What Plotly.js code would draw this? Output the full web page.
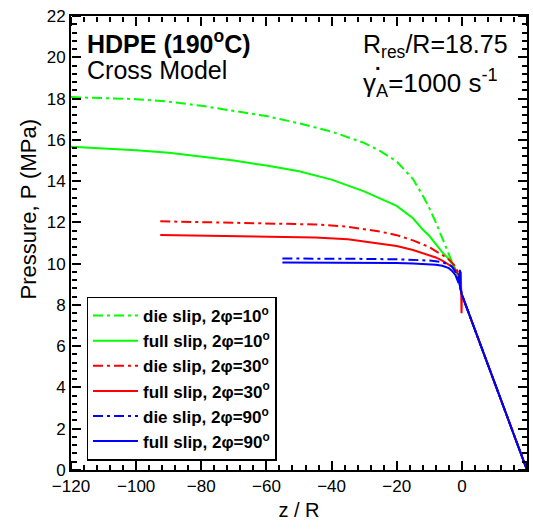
<!DOCTYPE html>
<html>
<head>
<meta charset="utf-8">
<script src="https://cdn.plot.ly/plotly-3.0.1.min.js"></script>
<style>html,body{margin:0;padding:0;background:#fff;}#chart{width:533px;height:530px;}</style>
</head>
<body>
<div id="chart"></div>
<script>
// z/R positions and pressures (MPa)
const z10 = [-120,-110,-100,-90,-80,-70,-60,-50,-40,-30,-25,-20,-15,-12,-10,-8,-6,-4,-3,-2,-1,0,5,10,15,20];
const dieSlip10 = [18.07,18.03,17.97,17.85,17.65,17.4,17.15,16.8,16.4,15.85,15.45,14.95,14.1,13.3,12.7,12.0,11.25,10.45,10.05,9.75,9.3,8.5,6.38,4.25,2.13,0];
const fullSlip10 = [15.66,15.58,15.5,15.37,15.2,15.0,14.75,14.48,14.07,13.5,13.15,12.8,12.2,11.65,11.35,10.95,10.55,10.22,10.0,9.75,9.3,8.5,6.38,4.25,2.13,0];

const z30die = [-92.6,-85,-75,-65,-55,-45,-35,-25,-20,-15,-10,-8,-6,-4,-3,-2,-1,0,5,10,15,20];
const dieSlip30 = [12.05,12.03,12.0,11.97,11.96,11.9,11.79,11.55,11.38,11.13,10.8,10.62,10.42,10.2,10.05,9.85,9.5,8.5,6.38,4.25,2.13,0];
const z30full = [-92.6,-85,-75,-65,-55,-45,-35,-25,-20,-15,-10,-8,-6,-4,-3,-2,-1,-0.3,-0.1,0,5,10,15,20];
const fullSlip30 = [11.39,11.37,11.35,11.33,11.32,11.27,11.18,10.98,10.85,10.66,10.42,10.3,10.15,9.95,9.85,9.7,9.45,9.6,7.6,8.5,6.38,4.25,2.13,0];

const z90die = [-55.1,-50,-40,-30,-20,-15,-10,-8,-6,-4,-3,-2,-1,0,5,10,15,20];
const dieSlip90 = [10.25,10.25,10.24,10.23,10.21,10.19,10.15,10.12,10.07,9.95,9.85,9.6,9.2,8.5,6.38,4.25,2.13,0];
const z90full = [-55.1,-50,-40,-30,-20,-15,-10,-8,-6,-4,-3,-2,-1,-0.6,-0.5,0,5,10,15,20];
const fullSlip90 = [10.06,10.06,10.05,10.04,10.03,10.01,9.98,9.95,9.9,9.78,9.65,9.45,9.05,9.7,8.8,8.5,6.38,4.25,2.13,0];

const xRange = [-120, 20];
const yRange = [0, 22];

const names = [
  "<b>die slip, 2φ=10<sup>o</sup></b>",
  "<b>full slip, 2φ=10<sup>o</sup></b>",
  "<b>die slip, 2φ=30<sup>o</sup></b>",
  "<b>full slip, 2φ=30<sup>o</sup></b>",
  "<b>die slip, 2φ=90<sup>o</sup></b>",
  "<b>full slip, 2φ=90<sup>o</sup></b>"
];

const dd = "10px,4px,3px,4px";
function tr(x, y, name, color, dash, g) {
  return {x: x, y: y, name: name, type: 'scatter', mode: 'lines',
    line: {color: color, width: 2, dash: dash}, legendgroup: g};
}
function holder(n) {
  return {x: [], y: [], xaxis: 'x' + n, yaxis: 'y' + n, type: 'scatter', mode: 'lines',
    showlegend: false, hoverinfo: 'skip'};
}
const data = [
  holder(3), holder(4), holder(5), holder(6),
  tr(z10, dieSlip10, names[0], '#00ff00', dd, 'a'),
  tr(z10, fullSlip10, names[1], '#00ff00', 'solid', 'b'),
  tr(z30die, dieSlip30, names[2], '#ff0000', dd, 'c'),
  tr(z30full, fullSlip30, names[3], '#ff0000', 'solid', 'd'),
  tr(z90die, dieSlip90, names[4], '#0000ff', dd, 'e'),
  tr(z90full, fullSlip90, names[5], '#0000ff', 'solid', 'f')
];

// tick-only axes: outside ticks of an axis placed on the opposite edge point into the plot
function tickAxis(over, side, pos, dtick, len, range) {
  return {overlaying: over, side: side, anchor: 'free', position: pos,
    ticks: 'outside', ticklen: len, tickwidth: len > 6 ? 2 : 1.5, tickcolor: 'black',
    showticklabels: false, showline: false, showgrid: false, zeroline: false,
    range: range, dtick: dtick, tick0: 0, autorange: false};
}

const layout = {
  width: 533, height: 530,
  margin: {l: 71, r: 6, t: 16, b: 60},
  paper_bgcolor: '#fff', plot_bgcolor: 'rgba(0,0,0,0)',
  font: {family: 'Liberation Sans, Arial', color: '#000'},
  showlegend: true,
  legend: {
    x: 0.034, y: 0.382, xanchor: 'left', yanchor: 'top',
    bgcolor: '#fff', bordercolor: '#000', borderwidth: 1.5,
    font: {family: 'Liberation Sans, Arial', size: 17, color: '#000'},
    tracegroupgap: 1, traceorder: 'normal', itemwidth: 45
  },
  xaxis: {
    showline: true, linecolor: 'black', linewidth: 2, mirror: true,
    ticks: '', showgrid: false, zeroline: false,
    tickfont: {size: 17, color: '#000'},
    range: xRange, dtick: 20, tick0: 0,
    title: {text: 'z / R', font: {size: 20}, standoff: 8}
  },
  yaxis: {
    showline: true, linecolor: 'black', linewidth: 2, mirror: true,
    ticks: '', showgrid: false, zeroline: false,
    tickfont: {size: 17, color: '#000'},
    range: yRange, dtick: 2, tick0: 0
  },
  xaxis3: tickAxis('x', 'top', 0, 20, 9, xRange),
  yaxis3: tickAxis('y', 'right', 0, 2, 9, yRange),
  xaxis4: tickAxis('x', 'bottom', 1, 20, 9, xRange),
  yaxis4: tickAxis('y', 'left', 1, 2, 9, yRange),
  xaxis5: tickAxis('x', 'top', 0, 4, 5, xRange),
  yaxis5: tickAxis('y', 'right', 0, 0.4, 5, yRange),
  xaxis6: tickAxis('x', 'bottom', 1, 4, 5, xRange),
  yaxis6: tickAxis('y', 'left', 1, 0.4, 5, yRange),
  annotations: [
    {xref: 'paper', yref: 'paper', x: -0.094, y: 0.574, xanchor: 'center', yanchor: 'middle',
     text: 'Pressure, P (MPa)', textangle: -90, showarrow: false, font: {size: 22}},
    {xref: 'paper', yref: 'paper', x: 0.03, y: 0.943, xanchor: 'left', yanchor: 'middle',
     text: '<b>HDPE (190<sup>o</sup>C)</b>', showarrow: false, font: {size: 25}},
    {xref: 'paper', yref: 'paper', x: 0.03, y: 0.881, xanchor: 'left', yanchor: 'middle',
     text: 'Cross Model', showarrow: false, font: {size: 25}},
    {xref: 'paper', yref: 'paper', x: 0.635, y: 0.935, xanchor: 'left', yanchor: 'middle',
     text: 'R<sub>res</sub>/R=18.75', showarrow: false, font: {size: 25}},
    {xref: 'paper', yref: 'paper', x: 0.635, y: 0.852, xanchor: 'left', yanchor: 'middle',
     text: 'γ<sub>A</sub>=1000 s<sup>-1</sup>', showarrow: false, font: {size: 26}},
    {xref: 'paper', yref: 'paper', x: 0.673, y: 0.897, xanchor: 'center', yanchor: 'middle',
     text: '<b>.</b>', showarrow: false, font: {size: 20}}
  ]
};

Plotly.newPlot('chart', data, layout, {displayModeBar: false});
</script>
</body>
</html>
